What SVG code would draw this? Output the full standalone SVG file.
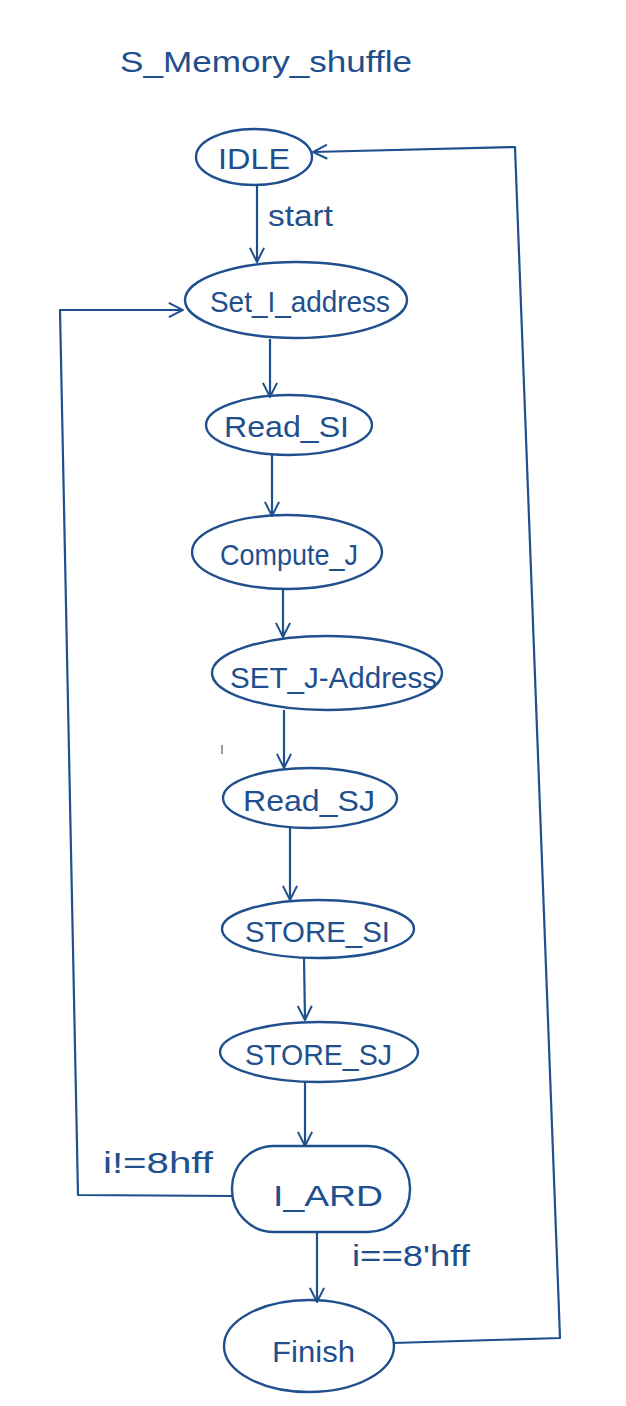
<svg xmlns="http://www.w3.org/2000/svg" width="626" height="1406" viewBox="0 0 626 1406">
<defs>
<style>
.n{fill:none;stroke:#1f4f8d;stroke-width:2.4}
.c{fill:none;stroke:#1f4f8d;stroke-width:2.2;stroke-linejoin:round}
.t{font-family:"Liberation Sans",Arial,sans-serif;fill:#1f4f8d;font-size:30px}
</style>
<marker id="ah" viewBox="0 0 12 12" refX="11" refY="6" markerWidth="17" markerHeight="17" markerUnits="userSpaceOnUse" orient="auto">
<path d="M1,1 L11,6 L1,11" fill="none" stroke="#1f4f8d" stroke-width="1.4"/>
</marker>
</defs>
<rect width="626" height="1406" fill="#ffffff"/>
<text class="t" x="120" y="72" font-size="44" textLength="292" lengthAdjust="spacingAndGlyphs">S_Memory_shuffle</text>
<g id="connectors">
<path class="c" d="M257,186 L257,262" marker-end="url(#ah)"/>
<path class="c" d="M270,339 L270,397" marker-end="url(#ah)"/>
<path class="c" d="M272,455 L272,516" marker-end="url(#ah)"/>
<path class="c" d="M283,590 L283,637" marker-end="url(#ah)"/>
<path class="c" d="M284,710 L284,768" marker-end="url(#ah)"/>
<path class="c" d="M290,828 L290,900" marker-end="url(#ah)"/>
<path class="c" d="M304,958 L305,1020" marker-end="url(#ah)"/>
<path class="c" d="M305,1082 L305,1146" marker-end="url(#ah)"/>
<path class="c" d="M317,1232 L317,1302" marker-end="url(#ah)"/>
<path class="c" d="M232,1196 L78,1195 L60,310 L183,310" marker-end="url(#ah)"/>
<path class="c" d="M393,1343 L560,1338 L515,147 L313,152" marker-end="url(#ah)"/>
<text class="t" x="268" y="226" font-size="28" textLength="65" lengthAdjust="spacingAndGlyphs">start</text>
<text class="t" x="103" y="1173" textLength="110" lengthAdjust="spacingAndGlyphs">i!=8hff</text>
<text class="t" x="352" y="1266" textLength="118" lengthAdjust="spacingAndGlyphs">i==8'hff</text>
</g>
<g id="IDLE"><ellipse class="n" cx="254" cy="157" rx="58" ry="28"/><text class="t" x="218" y="169" font-size="34" textLength="72" lengthAdjust="spacingAndGlyphs">IDLE</text></g>
<g id="Set_I_address"><ellipse class="n" cx="296" cy="300" rx="111" ry="38"/><text class="t" x="210" y="312" textLength="180" lengthAdjust="spacingAndGlyphs">Set_I_address</text></g>
<g id="Read_SI"><ellipse class="n" cx="289" cy="425" rx="83" ry="30"/><text class="t" x="224" y="437" textLength="125" lengthAdjust="spacingAndGlyphs">Read_SI</text></g>
<g id="Compute_J"><ellipse class="n" cx="287" cy="552" rx="95" ry="37"/><text class="t" x="220" y="565" textLength="138" lengthAdjust="spacingAndGlyphs">Compute_J</text></g>
<g id="SET_J-Address"><ellipse class="n" cx="327" cy="673" rx="115" ry="37"/><text class="t" x="230" y="688" textLength="207" lengthAdjust="spacingAndGlyphs">SET_J-Address</text></g>
<g id="Read_SJ"><ellipse class="n" cx="310" cy="798" rx="87" ry="30"/><text class="t" x="243" y="811" textLength="132" lengthAdjust="spacingAndGlyphs">Read_SJ</text></g>
<g id="STORE_SI"><ellipse class="n" cx="318" cy="929" rx="96" ry="29"/><text class="t" x="245" y="942" textLength="145" lengthAdjust="spacingAndGlyphs">STORE_SI</text></g>
<g id="STORE_SJ"><ellipse class="n" cx="319" cy="1052" rx="99" ry="30"/><text class="t" x="245" y="1065" textLength="147" lengthAdjust="spacingAndGlyphs">STORE_SJ</text></g>
<g id="I_ARD"><rect class="n" x="232" y="1146" width="178" height="86" rx="42" ry="42"/><text class="t" x="273" y="1206" font-size="34" textLength="110" lengthAdjust="spacingAndGlyphs">I_ARD</text></g>
<g id="Finish"><ellipse class="n" cx="309" cy="1346" rx="85" ry="46"/><text class="t" x="272" y="1362" font-size="36" textLength="83" lengthAdjust="spacingAndGlyphs">Finish</text></g>
<rect x="221" y="745" width="2" height="9" fill="#9a9a9a"/>
</svg>
